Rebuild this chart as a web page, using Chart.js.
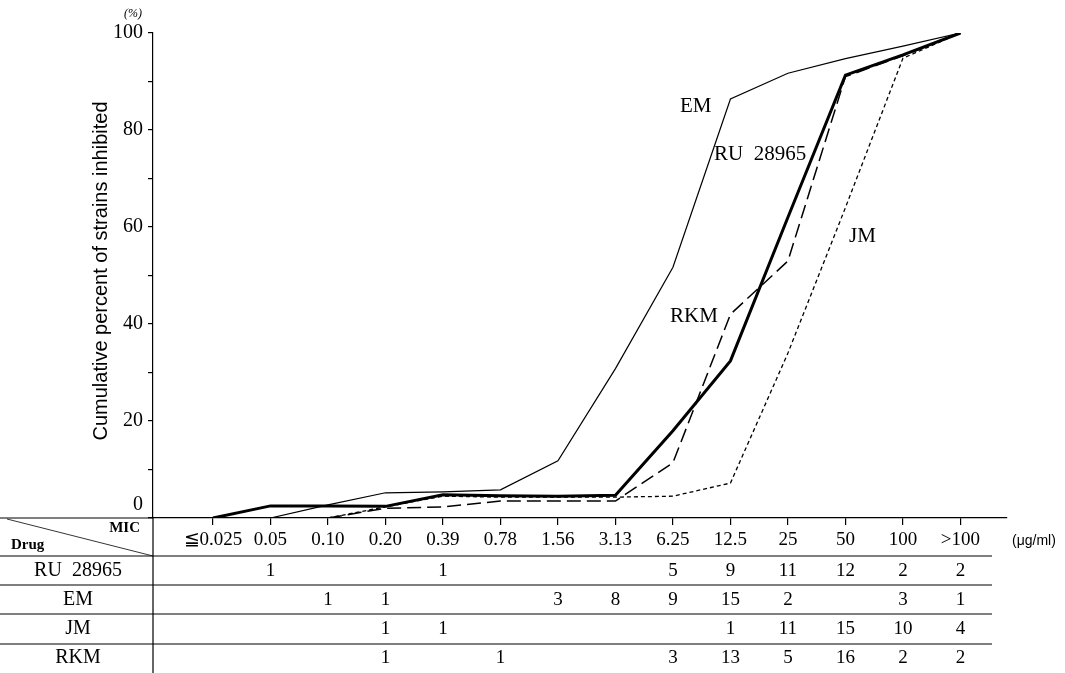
<!DOCTYPE html>
<html>
<head>
<meta charset="utf-8">
<script src="https://cdn.jsdelivr.net/npm/chart.js@4.4.1/dist/chart.umd.min.js"></script>
<style>
  body { margin: 0; background: #fff; }
  canvas { display: block; }
</style>
</head>
<body>
<canvas id="mic" width="1065" height="673"></canvas>
<script>
const categories = ['≦0.025', '0.05', '0.10', '0.20', '0.39', '0.78', '1.56', '3.13', '6.25', '12.5', '25', '50', '100', '>100'];
const yTicks = [0, 20, 40, 60, 80, 100];

// cumulative percent
const ruValues = [0, 2.5, 2.5, 2.4, 4.8, 4.6, 4.5, 4.7, 18, 32.4, 62, 91.3, 95.5, 100];
const emValues = [null, 0, 2.7, 5.2, 5.4, 5.8, 11.8, 30.8, 51.7, 86.4, 91.7, 94.7, 97.3, 100];
const jmValues = [null, null, 0, 2.3, 4.5, 4.3, 4.3, 4.3, 4.5, 7.2, 34, 64, 94.8, 100];
const rkmValues = [null, null, 0, 2.0, 2.3, 3.5, 3.5, 3.5, 11.4, 42, 53, 91, 95.3, 100];

// number of strains per MIC (table under the chart)
const drugs = ['RU  28965', 'EM', 'JM', 'RKM'];
const ruCounts = [null, 1, null, null, 1, null, null, null, 5, 9, 11, 12, 2, 2];
const emCounts = [null, null, 1, 1, null, null, 3, 8, 9, 15, 2, null, 3, 1];
const jmCounts = [null, null, null, 1, 1, null, null, null, null, 1, 11, 15, 10, 4];
const rkmCounts = [null, null, null, 1, null, 1, null, null, 3, 13, 5, 16, 2, 2];

const serif = "'Liberation Serif', 'DejaVu Serif', serif";
const sans = "'Liberation Sans', 'DejaVu Sans', sans-serif";

function points(values) {
  return values.map((v, i) => ({ x: i, y: v }));
}

const tablePlugin = {
  id: 'micTable',
  afterDraw(chart) {
    const ctx = chart.ctx;
    const xs = chart.scales.x;
    const ys = chart.scales.y;
    const left = chart.chartArea.left;
    const bottom = chart.chartArea.bottom;

    ctx.save();
    ctx.strokeStyle = '#000';
    ctx.lineWidth = 1.2;

    // table frame
    ctx.beginPath();
    ctx.moveTo(0, bottom); ctx.lineTo(left, bottom);
    ctx.moveTo(left, bottom); ctx.lineTo(left, 673);
    [556, 585, 614, 644].forEach(y => { ctx.moveTo(0, y); ctx.lineTo(992, y); });
    ctx.stroke();
    ctx.lineWidth = 0.8;
    ctx.beginPath();
    ctx.moveTo(7, bottom + 1); ctx.lineTo(left, 556);
    ctx.stroke();

    ctx.fillStyle = '#000';
    ctx.textBaseline = 'middle';
    ctx.font = 'bold 15px ' + serif;
    ctx.textAlign = 'left';
    ctx.fillText('Drug', 11, 545);
    ctx.textAlign = 'right';
    ctx.fillText('MIC', 140, 528);

    ctx.font = '14px ' + sans;
    ctx.textAlign = 'left';
    ctx.fillText('(μg/ml)', 1012, 541);

    // row labels and counts
    const rows = [ruCounts, emCounts, jmCounts, rkmCounts];
    const rowY = [571, 600, 629, 658];
    ctx.textAlign = 'center';
    rows.forEach((counts, r) => {
      ctx.font = '20px ' + serif;
      ctx.fillText(drugs[r], 78, rowY[r]);
      ctx.font = '19px ' + serif;
      counts.forEach((n, i) => {
        if (n !== null) ctx.fillText(String(n), xs.getPixelForValue(i), rowY[r]);
      });
    });

    // zero label sits above the table line
    ctx.font = '20px ' + serif;
    ctx.textAlign = 'right';
    ctx.fillText('0', 143, ys.getPixelForValue(0) - 13);

    ctx.font = 'italic 12px ' + serif;
    ctx.textAlign = 'center';
    ctx.fillText('(%)', 133, 14);

    // y axis title
    ctx.save();
    ctx.translate(101, 271);
    ctx.rotate(-Math.PI / 2);
    ctx.font = '20px ' + sans;
    ctx.fillText('Cumulative percent of strains inhibited', 0, 0);
    ctx.restore();

    // curve labels
    ctx.font = '21px ' + serif;
    ctx.textAlign = 'left';
    ctx.fillText('EM', 680, 106);
    ctx.fillText('RU  28965', 714, 154);
    ctx.fillText('JM', 849, 236);
    ctx.fillText('RKM', 670, 316);
    ctx.restore();
  }
};

new Chart(document.getElementById('mic'), {
  type: 'line',
  data: {
    datasets: [{
      label: 'EM',
      data: points(emValues),
      borderColor: '#000',
      borderWidth: 1.2
    },
    {
      label: 'JM',
      data: points(jmValues),
      borderColor: '#000',
      borderWidth: 1.3,
      borderDash: [4, 3]
    },
    {
      label: 'RKM',
      data: points(rkmValues),
      borderColor: '#000',
      borderWidth: 1.5,
      borderDash: [14, 6]
    },
    {
      label: 'RU 28965',
      data: points(ruValues),
      borderColor: '#000',
      borderWidth: 3
    }
    ]
  },
  options: {
    responsive: false,
    animation: false,
    devicePixelRatio: 1,
    layout: { padding: { top: 33, right: 58, left: 0, bottom: 0 } },
    elements: {
      point: { radius: 0 },
      line: { tension: 0, fill: false }
    },
    plugins: {
      legend: { display: false },
      tooltip: { enabled: false }
    },
    scales: {
      x: {
        type: 'linear',
        min: -1.043,
        max: 13.81,
        afterBuildTicks: function (scale) {
          scale.ticks = categories.map((c, i) => ({ value: i }));
        },
        afterFit: function (scale) {
          scale.height = 155;
        },
        border: { color: '#000', width: 1.2 },
        grid: { drawOnChartArea: false, drawTicks: true, tickLength: 7, color: '#000', lineWidth: 1.2 },
        ticks: {
          color: '#000',
          padding: 4,
          maxRotation: 0,
          autoSkip: false,
          font: { family: serif, size: 19 },
          callback: function (value) {
            return categories[value];
          }
        }
      },
      y: {
        min: 0,
        max: 100,
        afterFit: function (scale) {
          scale.width = 153;
        },
        border: { color: '#000', width: 1.2 },
        grid: { drawOnChartArea: false, drawTicks: true, tickLength: 5, color: '#000', lineWidth: 1.2 },
        ticks: {
          stepSize: 10,
          color: '#000',
          padding: 5,
          font: { family: serif, size: 20 },
          callback: function (value) {
            return (value > 0 && yTicks.includes(value)) ? value : '';
          }
        }
      }
    }
  },
  plugins: [tablePlugin]
});
</script>
</body>
</html>
